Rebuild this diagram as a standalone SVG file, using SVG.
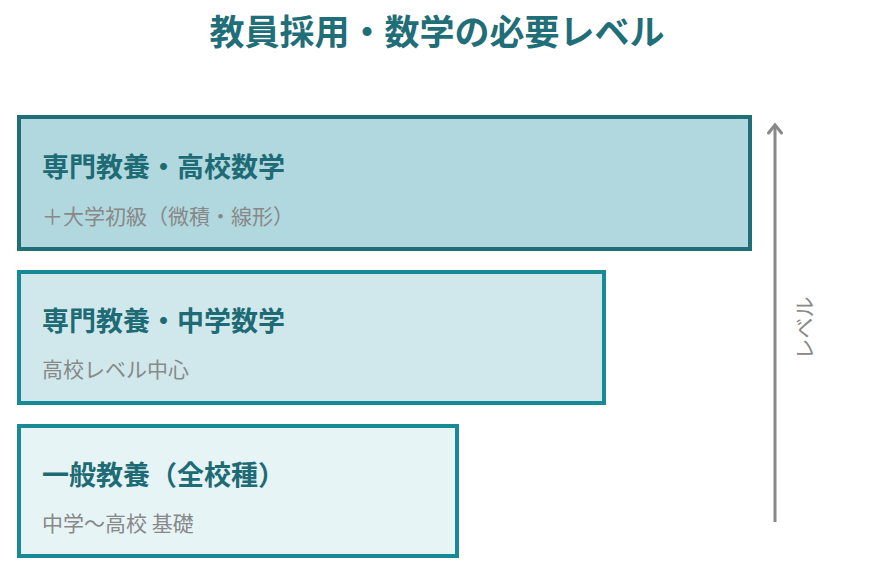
<svg xmlns="http://www.w3.org/2000/svg" width="877" height="588" viewBox="0 0 877 588">
<defs>
<style>
text{font-family:"Noto Sans CJK JP","Noto Sans",sans-serif;}
.title{font-size:35px;font-weight:700;fill:#1f6e78;}
.h{font-size:27px;font-weight:700;fill:#1e6b75;}
.s{font-size:21px;fill:#888888;}
.box{stroke-width:4;}
</style>
</defs>
<rect width="877" height="588" fill="#ffffff"/>
<text class="title" x="437" y="45" text-anchor="middle">教員採用・数学の必要レベル</text>
<g id="node-senmon-koko">
<rect class="box" x="19" y="117" width="731" height="132" fill="#b0d8de" stroke="#206f78"/>
<text class="h" x="42" y="177">専門教養・高校数学</text>
<text class="s" x="42" y="224">＋大学初級（微積・線形）</text>
</g>
<g id="node-senmon-chugaku">
<rect class="box" x="19" y="272" width="585" height="131" fill="#d0e8ec" stroke="#178a96"/>
<text class="h" x="42" y="331">専門教養・中学数学</text>
<text class="s" x="42" y="377">高校レベル中心</text>
</g>
<g id="node-ippan">
<rect class="box" x="19" y="426" width="438" height="130" fill="#e6f4f6" stroke="#178a96"/>
<text class="h" x="42" y="485">一般教養（全校種）</text>
<text class="s" x="42" y="531">中学〜高校 基礎</text>
</g>
<g id="connectors">
<line x1="775" y1="522" x2="775" y2="126" stroke="#888888" stroke-width="3"/>
<polyline points="768.5,133 775,125 781.5,133" fill="none" stroke="#888888" stroke-width="3" stroke-linejoin="miter" stroke-linecap="round"/>
<text class="s" x="0" y="0" text-anchor="middle" font-size="22" transform="translate(812,328) rotate(-90)">レベル</text>
</g>
</svg>
